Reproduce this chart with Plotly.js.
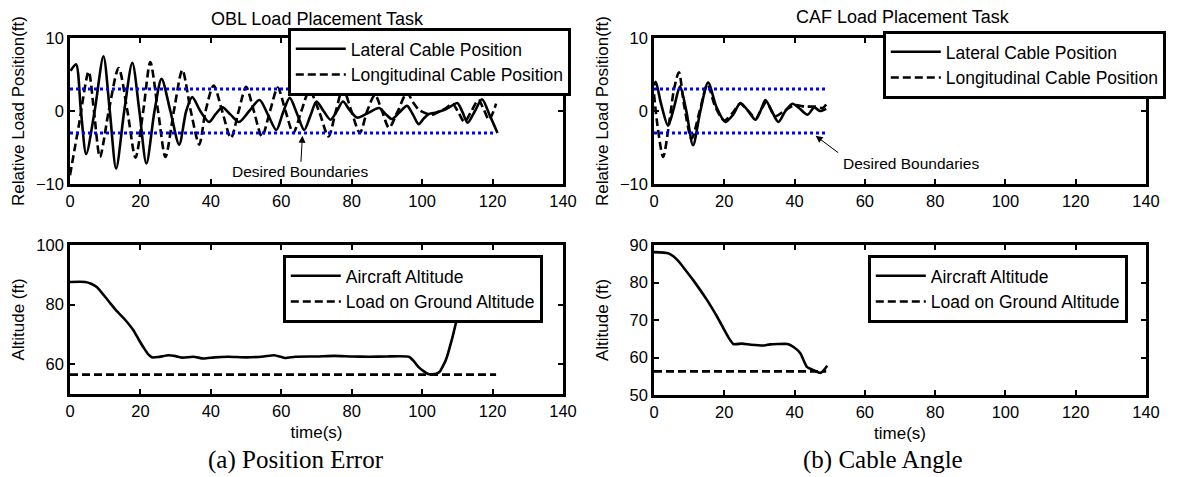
<!DOCTYPE html>
<html>
<head>
<meta charset="utf-8">
<script src="https://cdn.plot.ly/plotly-3.0.1.min.js"></script>
<style>html,body{margin:0;padding:0;background:#fff;}#chart{width:1178px;height:477px;}</style>
</head>
<body>
<div id="chart"></div>
<script>
// ---------- DATA ----------
// OBL task: lateral (solid) and longitudinal (dashed) relative load position (ft)
var oblLatT = [0.2, 1.7, 3.1, 4.6, 7.0, 9.5, 11.3, 13.1, 15.4, 17.7, 19.7, 21.7, 24.0, 26.0, 28.5, 31.0, 33.0, 34.7, 37.0, 39.5, 41.4, 43.3, 45.6, 48.0, 50.9, 53.8, 56.2, 58.6, 60.5, 62.4, 64.5, 66.5, 68.3, 70.0, 72.0, 74.0, 75.8, 77.5, 79.3, 81.5, 84.5, 87.8, 89.6, 91.4, 93.5, 95.7, 97.4, 99.0, 100.5, 102.0, 104.0, 106.0, 108.0, 110.0, 111.5, 112.9, 115.0, 117.0, 119.2, 121.4];
var oblLatY = [5.5, 6.4, 0.0, -5.9, 0.0, 7.5, 0.0, -7.9, 0.0, 6.6, 0.0, -7.2, 0.0, 4.4, 0.0, -4.6, 0.0, 1.9, 0.0, -1.5, -0.4, 0.5, -0.5, -1.5, 0.0, 1.5, -0.5, -2.6, -0.2, 1.8, -0.4, -2.6, -0.6, 1.3, 0.0, -1.2, 0.0, 1.3, 0.2, -0.9, -0.3, 0.4, -0.4, -1.1, -0.2, 0.7, -0.5, -1.8, -1.0, -0.4, -0.2, 0.1, 0.6, 1.1, -0.2, -1.6, 0.0, 1.6, -0.6, -3.0];
var oblLonT = [0.0, 2.5, 5.3, 6.8, 8.5, 11.0, 13.8, 16.3, 18.6, 20.8, 22.8, 25.0, 27.1, 29.5, 31.9, 34.3, 36.7, 38.5, 40.8, 43.2, 45.7, 47.9, 50.0, 52.2, 54.5, 56.8, 59.0, 61.2, 63.4, 65.7, 68.0, 70.7, 73.4, 75.5, 77.5, 79.9, 82.3, 84.4, 86.6, 88.6, 90.6, 93.1, 95.7, 97.4, 99.0, 101.0, 103.0, 105.0, 106.8, 108.6, 110.3, 112.0, 114.0, 116.0, 117.5, 119.0, 121.0];
var oblLonY = [-8.8, -2.0, 5.4, 0.0, -6.3, 0.0, 5.9, 0.0, -6.4, 0.0, 6.7, 0.0, -6.3, 0.0, 5.6, 0.0, -4.6, 0.0, 3.5, 0.0, -3.7, 0.0, 3.3, 0.0, -3.5, 0.0, 3.2, 0.0, -3.0, 0.0, 2.8, 0.0, -3.5, 0.0, 3.1, 0.0, -3.0, 0.0, 2.2, 0.0, -2.3, 0.0, 2.5, 1.2, 0.2, -0.3, -0.5, 0.0, 0.4, 1.0, -0.2, -1.5, 0.0, 1.5, 0.2, -1.2, 1.0];
// CAF task
var cafLatT = [0.0, 0.5, 2.0, 4.0, 5.7, 7.4, 9.2, 11.1, 13.2, 15.4, 17.8, 20.3, 22.5, 24.6, 26.8, 28.9, 30.3, 31.7, 33.5, 35.4, 37.4, 39.4, 41.5, 43.7, 45.6, 47.2, 49.0];
var cafLatY = [3.5, 4.0, 1.0, -2.0, 0.5, 3.4, 0.0, -4.7, 0.0, 3.9, 0.5, -1.5, -0.5, 1.1, 0.0, -1.2, 0.0, 1.5, 0.0, -1.5, 0.0, 1.0, 0.3, -0.5, 0.5, 0.0, 0.3];
var cafLonT = [0.0, 1.0, 2.6, 4.5, 5.7, 7.1, 8.5, 10.7, 13.0, 15.2, 17.5, 20.0, 22.3, 24.5, 26.8, 29.0, 30.5, 32.0, 34.5, 37.0, 40.0, 43.0, 46.0, 48.0, 49.0];
var cafLonY = [2.3, -2.0, -6.3, -1.0, 3.0, 5.3, 1.0, -3.8, 0.0, 3.6, 0.5, -1.3, -0.3, 1.0, 0.0, -1.0, 0.2, 1.2, -0.7, 0.0, 0.8, 0.6, 0.6, 0.4, 0.9];
// Desired boundaries (ft) and their time extent (s)
var boundVals = [3, -3];
var oblEnd = 121;
var cafEnd = 49;
// Altitude (ft)
var oblAltT = [0, 4.3, 6, 7.6, 9.5, 11.4, 13.3, 15.2, 18, 19.5, 21, 22.3, 23.3, 25, 28, 30, 32, 35, 38, 41, 45, 50, 55, 58, 61, 64, 70, 75, 80, 85, 90, 96.2, 97.5, 99, 100.5, 102, 104, 105, 106.7, 108.6, 110.5, 112];
var oblAltY = [87.6, 87.6, 87.0, 85.9, 83.3, 80.5, 77.8, 75.5, 71.4, 68.3, 65.4, 63.2, 62.3, 62.4, 63.0, 62.7, 62.2, 62.5, 61.9, 62.3, 62.5, 62.3, 62.6, 63.0, 62.1, 62.5, 62.6, 62.8, 62.6, 62.5, 62.6, 62.5, 61.2, 59.0, 57.6, 56.6, 56.8, 57.5, 61.3, 69.0, 78.2, 84.0];
var cafAltT = [0, 4, 5.5, 7.4, 9.2, 11.1, 15.1, 18, 21.1, 22.6, 25, 27.6, 31.4, 33, 35.2, 38, 39.7, 41.6, 43.5, 45.4, 47.4, 48.4, 49.3];
var cafAltY = [88.1, 87.8, 87.0, 85.2, 83.0, 80.7, 75.3, 70.8, 65.5, 63.6, 63.7, 63.4, 63.2, 63.5, 63.6, 63.6, 62.8, 61.2, 57.5, 56.6, 55.9, 56.7, 57.8];
var oblGround = 56.5;
var cafGround = 56.3;
// Tick labels
var xTicks = [0, 20, 40, 60, 80, 100, 120, 140];
var posTicks = [-10, 0, 10];
var oblAltTicks = [60, 80, 100];
var cafAltTicks = [50, 60, 70, 80, 90];

// ---------- STYLE ----------
var SANS = 'Liberation Sans, Arial, Helvetica, sans-serif';
var SERIF = 'Liberation Serif, Times New Roman, serif';
var solid = {color: '#000', width: 2.6, shape: 'spline', smoothing: 0.8};
var dashed = {color: '#000', width: 2.6, dash: '8px,4px', shape: 'spline', smoothing: 0.8};
var dotted = {color: '#0000ff', width: 3, dash: '3px,3px'};

function boundTraces(xa, ya, tEnd) {
  return boundVals.map(function (b) {
    return {x: [0, tEnd], y: [b, b], xaxis: xa, yaxis: ya, mode: 'lines', line: dotted, showlegend: false, hoverinfo: 'skip'};
  });
}

var traces = [
  {x: oblLatT, y: oblLatY, xaxis: 'x', yaxis: 'y', mode: 'lines', line: solid, name: 'Lateral Cable Position', legend: 'legend'},
  {x: oblLonT, y: oblLonY, xaxis: 'x', yaxis: 'y', mode: 'lines', line: dashed, name: 'Longitudinal Cable Position', legend: 'legend'}
].concat(boundTraces('x', 'y', oblEnd)).concat([
  {x: cafLatT, y: cafLatY, xaxis: 'x2', yaxis: 'y2', mode: 'lines', line: solid, name: 'Lateral Cable Position', legend: 'legend2'},
  {x: cafLonT, y: cafLonY, xaxis: 'x2', yaxis: 'y2', mode: 'lines', line: dashed, name: 'Longitudinal Cable Position', legend: 'legend2'}
]).concat(boundTraces('x2', 'y2', cafEnd)).concat([
  {x: oblAltT, y: oblAltY, xaxis: 'x3', yaxis: 'y3', mode: 'lines', line: {color: '#000', width: 2.6, shape: 'spline', smoothing: 0.5}, name: 'Aircraft Altitude', legend: 'legend3'},
  {x: [0, oblEnd], y: [oblGround, oblGround], xaxis: 'x3', yaxis: 'y3', mode: 'lines', line: {color: '#000', width: 2.6, dash: '8px,4px'}, name: 'Load on Ground Altitude', legend: 'legend3'},
  {x: cafAltT, y: cafAltY, xaxis: 'x4', yaxis: 'y4', mode: 'lines', line: {color: '#000', width: 2.6, shape: 'spline', smoothing: 0.5}, name: 'Aircraft Altitude', legend: 'legend4'},
  {x: [0, cafEnd], y: [cafGround, cafGround], xaxis: 'x4', yaxis: 'y4', mode: 'lines', line: {color: '#000', width: 2.6, dash: '8px,4px'}, name: 'Load on Ground Altitude', legend: 'legend4'}
]);

function axis(extra) {
  var base = {
    showline: true, linecolor: '#000', linewidth: 2.8, mirror: 'ticks',
    ticks: 'inside', ticklen: 5, tickwidth: 2, tickcolor: '#000',
    showgrid: false, zeroline: false, fixedrange: true,
    tickfont: {family: SANS, size: 16.5, color: '#000'}
  };
  for (var k in extra) base[k] = extra[k];
  return base;
}

var W = 1178, H = 477;
function px(v) { return v / W; }
function py(v) { return 1 - v / H; }

var legendBase = {
  bgcolor: '#fff', bordercolor: '#000', borderwidth: 2.8,
  font: {family: SANS, size: 17.5, color: '#000'},
  xref: 'paper', yref: 'paper', xanchor: 'left', yanchor: 'top',
  itemwidth: 50, tracegroupgap: 0
};
function legendAt(x, y) {
  var o = {};
  for (var k in legendBase) o[k] = legendBase[k];
  o.x = px(x); o.y = py(y);
  return o;
}

var ytitle = function (t) { return {text: t, font: {family: SANS, size: 17, color: '#000'}}; };
var xtitle = {text: 'time(s)', font: {family: SANS, size: 17, color: '#000'}, standoff: 8};

function paperText(text, x, y, font) {
  return {text: text, xref: 'paper', yref: 'paper', x: px(x), y: py(y), xanchor: 'center', yanchor: 'middle', showarrow: false, font: font};
}

var layout = {
  width: W, height: H,
  margin: {l: 0, r: 0, t: 0, b: 0, pad: 0, autoexpand: false},
  paper_bgcolor: '#fff', plot_bgcolor: '#fff',
  showlegend: true,
  xaxis: axis({domain: [px(70), px(563)], anchor: 'y', range: [0, 140], tickvals: xTicks}),
  yaxis: axis({domain: [py(184), py(38)], anchor: 'x', range: [-10, 10], tickvals: posTicks, title: ytitle('Relative Load Position(ft)')}),
  xaxis2: axis({domain: [px(654), px(1146)], anchor: 'y2', range: [0, 140], tickvals: xTicks}),
  yaxis2: axis({domain: [py(184), py(38)], anchor: 'x2', range: [-10, 10], tickvals: posTicks, title: ytitle('Relative Load Position(ft)')}),
  xaxis3: axis({domain: [px(70), px(563)], anchor: 'y3', range: [0, 140], tickvals: xTicks, title: xtitle}),
  yaxis3: axis({domain: [py(394), py(245)], anchor: 'x3', range: [50, 100], tickvals: oblAltTicks, title: ytitle('Altitude (ft)')}),
  xaxis4: axis({domain: [px(654), px(1146)], anchor: 'y4', range: [0, 140], tickvals: xTicks, title: xtitle}),
  yaxis4: axis({domain: [py(395), py(245)], anchor: 'x4', range: [50, 90], tickvals: cafAltTicks, title: ytitle('Altitude (ft)')}),
  legend: legendAt(288, 28),
  legend2: legendAt(883, 31),
  legend3: legendAt(283, 255),
  legend4: legendAt(868, 255),
  annotations: [
    paperText('OBL Load Placement Task', 317, 19, {family: SANS, size: 18, color: '#000'}),
    paperText('CAF Load Placement Task', 903, 17, {family: SANS, size: 18, color: '#000'}),
    {text: 'Desired Boundaries', xref: 'x', yref: 'y', x: 66, y: -3.4, ax: -2, ay: 36, showarrow: true, arrowhead: 2, arrowsize: 1.4, arrowwidth: 1, arrowcolor: '#000', font: {family: SANS, size: 15.5, color: '#000'}},
    paperText('Desired Boundaries', 911, 163, {family: SANS, size: 15.5, color: '#000'}),
    {text: ' ', xref: 'x2', yref: 'y2', x: 46, y: -3.4, ax: 24, ay: 18, showarrow: true, arrowhead: 2, arrowsize: 1.4, arrowwidth: 1, arrowcolor: '#000', font: {size: 1}},
    paperText('(a) Position Error', 296, 460, {family: SERIF, size: 25, color: '#000'}),
    paperText('(b) Cable Angle', 883, 460, {family: SERIF, size: 25, color: '#000'})
  ]
};

Plotly.newPlot('chart', traces, layout, {displayModeBar: false, staticPlot: true});
</script>
</body>
</html>
